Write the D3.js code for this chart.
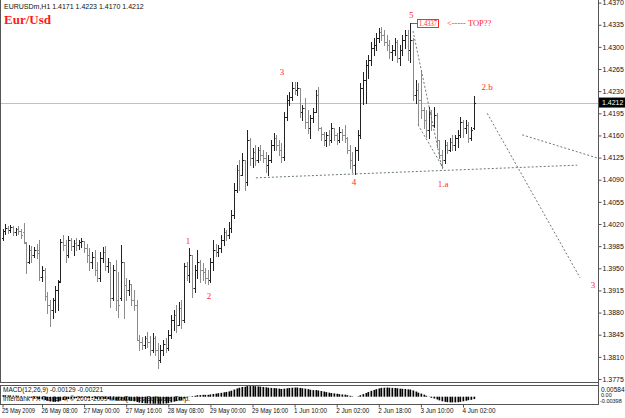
<!DOCTYPE html>
<html>
<head>
<meta charset="utf-8">
<script src="https://cdn.jsdelivr.net/npm/d3@7"></script>
<style>
  body { margin: 0; background: #fff; }
  text { font-family: "Liberation Sans", Arial, sans-serif; }
</style>
</head>
<body>
<script>
// hourly EURUSD bars, 25 May 17:00 .. 4 Jun 06:00
const opens = [1.3998,1.4009,1.4014,1.4011,1.4015,1.4007,1.4012,1.4009,1.4007,1.3990,
  1.3960,1.3979,1.3971,1.3979,1.3979,1.3936,1.3947,1.3906,1.3892,1.3884,
  1.3900,1.3916,1.3930,1.3992,1.3987,1.3971,1.3995,1.3985,1.3990,1.3987,
  1.3992,1.3993,1.3982,1.3971,1.3960,1.3968,1.3947,1.3935,1.3966,1.3976,
  1.3954,1.3960,1.3903,1.3947,1.3900,1.3903,1.3960,1.3924,1.3916,1.3925,
  1.3900,1.3892,1.3837,1.3834,1.3829,1.3840,1.3834,1.3821,1.3840,1.3821,
  1.3805,1.3821,1.3830,1.3824,1.3845,1.3868,1.3876,1.3860,1.3887,1.3868,
  1.3954,1.3940,1.3971,1.3919,1.3947,1.3960,1.3947,1.3944,1.3935,1.3932,
  1.3960,1.3979,1.3976,1.3982,1.3995,1.4007,1.4003,1.4014,1.4034,1.4074,
  1.4105,1.4097,1.4121,1.4086,1.4153,1.4124,1.4134,1.4121,1.4137,1.4129,
  1.4124,1.4113,1.4121,1.4145,1.4156,1.4145,1.4137,1.4126,1.4189,1.4216,
  1.4221,1.4235,1.4232,1.4235,1.4197,1.4203,1.4181,1.4172,1.4188,1.4197,
  1.4224,1.4172,1.4162,1.4153,1.4161,1.4153,1.4172,1.4161,1.4153,1.4165,
  1.4161,1.4156,1.4137,1.4121,1.4113,1.4137,1.4161,1.4235,1.4248,1.4271,
  1.4279,1.4298,1.4303,1.4314,1.4323,1.4319,1.4308,1.4303,1.4292,1.4295,
  1.4308,1.4282,1.4295,1.4311,1.4319,1.4295,1.4311,1.4224,1.4232,1.4216,
  1.4200,1.4184,1.4169,1.4197,1.4177,1.4192,1.4153,1.4129,1.4121,1.4145,
  1.4137,1.4150,1.4145,1.4156,1.4161,1.4181,1.4172,1.4177,1.4156,1.4171];
const highs = [1.4012,1.4020,1.4017,1.4018,1.4017,1.4014,1.4017,1.4012,1.4022,1.3992,
  1.3987,1.3985,1.3984,1.3988,1.3995,1.3954,1.3951,1.3913,1.3900,1.3903,
  1.3922,1.3932,1.3996,1.4003,1.3995,1.4001,1.3998,1.3995,1.3998,1.3995,
  1.3998,1.3993,1.3988,1.3982,1.3976,1.3979,1.3960,1.3976,1.3984,1.3985,
  1.3966,1.3960,1.3955,1.3963,1.3944,1.3987,1.3960,1.3935,1.3932,1.3925,
  1.3916,1.3900,1.3845,1.3842,1.3843,1.3849,1.3843,1.3848,1.3843,1.3832,
  1.3829,1.3837,1.3840,1.3853,1.3876,1.3884,1.3892,1.3897,1.3900,1.3958,
  1.3960,1.3982,1.3971,1.3955,1.3979,1.3963,1.3958,1.3951,1.3947,1.3966,
  1.3995,1.3988,1.3987,1.4003,1.4014,1.4011,1.4023,1.4042,1.4085,1.4113,
  1.4121,1.4132,1.4121,1.4169,1.4156,1.4140,1.4145,1.4142,1.4145,1.4137,
  1.4134,1.4129,1.4153,1.4164,1.4161,1.4153,1.4148,1.4197,1.4224,1.4229,
  1.4244,1.4244,1.4244,1.4235,1.4208,1.4219,1.4200,1.4192,1.4203,1.4232,
  1.4237,1.4173,1.4165,1.4165,1.4169,1.4180,1.4172,1.4164,1.4173,1.4170,
  1.4176,1.4158,1.4145,1.4134,1.4142,1.4169,1.4243,1.4260,1.4279,1.4287,
  1.4308,1.4314,1.4322,1.4330,1.4331,1.4327,1.4319,1.4311,1.4303,1.4314,
  1.4311,1.4303,1.4319,1.4327,1.4327,1.4337,1.4314,1.4248,1.4243,1.4263,
  1.4205,1.4200,1.4205,1.4200,1.4205,1.4195,1.4153,1.4137,1.4153,1.4150,
  1.4156,1.4161,1.4161,1.4169,1.4189,1.4184,1.4184,1.4181,1.4173,1.4223];
const lows = [1.3995,1.4004,1.4006,1.4007,1.4003,1.4003,1.4004,1.3998,1.3990,1.3943,
  1.3958,1.3960,1.3968,1.3966,1.3932,1.3930,1.3900,1.3879,1.3859,1.3872,
  1.3881,1.3884,1.3928,1.3979,1.3960,1.3968,1.3979,1.3971,1.3979,1.3981,
  1.3984,1.3976,1.3960,1.3947,1.3951,1.3940,1.3930,1.3930,1.3960,1.3947,
  1.3944,1.3889,1.3900,1.3884,1.3873,1.3900,1.3872,1.3900,1.3908,1.3892,
  1.3884,1.3837,1.3821,1.3823,1.3824,1.3826,1.3813,1.3818,1.3813,1.3793,
  1.3802,1.3813,1.3818,1.3821,1.3840,1.3853,1.3849,1.3860,1.3856,1.3865,
  1.3932,1.3928,1.3905,1.3913,1.3935,1.3928,1.3932,1.3927,1.3925,1.3928,
  1.3947,1.3970,1.3970,1.3976,1.3987,1.3995,1.3998,1.4007,1.4030,1.4071,
  1.4074,1.4097,1.4074,1.4082,1.4113,1.4110,1.4113,1.4118,1.4121,1.4118,
  1.4102,1.4097,1.4118,1.4137,1.4137,1.4129,1.4118,1.4121,1.4184,1.4208,
  1.4216,1.4225,1.4224,1.4189,1.4184,1.4172,1.4164,1.4156,1.4181,1.4197,
  1.4169,1.4153,1.4145,1.4143,1.4145,1.4150,1.4153,1.4146,1.4150,1.4153,
  1.4150,1.4132,1.4109,1.4102,1.4099,1.4121,1.4156,1.4210,1.4211,1.4251,
  1.4271,1.4287,1.4295,1.4308,1.4311,1.4303,1.4295,1.4282,1.4279,1.4287,
  1.4276,1.4271,1.4287,1.4298,1.4279,1.4276,1.4216,1.4211,1.4177,1.4188,
  1.4172,1.4158,1.4156,1.4169,1.4173,1.4142,1.4124,1.4109,1.4116,1.4132,
  1.4135,1.4137,1.4137,1.4142,1.4158,1.4158,1.4164,1.4150,1.4153,1.4170];
const closes = [1.4009,1.4014,1.4011,1.4015,1.4007,1.4012,1.4009,1.4003,1.3992,1.3960,
  1.3979,1.3971,1.3979,1.3974,1.3936,1.3947,1.3906,1.3892,1.3884,1.3900,
  1.3916,1.3928,1.3992,1.3987,1.3971,1.3995,1.3985,1.3990,1.3987,1.3992,
  1.3993,1.3982,1.3971,1.3960,1.3968,1.3947,1.3935,1.3966,1.3976,1.3954,
  1.3960,1.3903,1.3947,1.3900,1.3892,1.3960,1.3924,1.3916,1.3925,1.3900,
  1.3892,1.3837,1.3834,1.3829,1.3840,1.3834,1.3821,1.3840,1.3821,1.3805,
  1.3821,1.3830,1.3824,1.3845,1.3868,1.3876,1.3860,1.3887,1.3868,1.3954,
  1.3940,1.3971,1.3919,1.3947,1.3960,1.3947,1.3944,1.3935,1.3932,1.3960,
  1.3979,1.3976,1.3982,1.3995,1.4007,1.4003,1.4014,1.4034,1.4074,1.4105,
  1.4097,1.4121,1.4086,1.4153,1.4124,1.4134,1.4121,1.4137,1.4129,1.4124,
  1.4113,1.4121,1.4145,1.4156,1.4145,1.4137,1.4126,1.4189,1.4216,1.4221,
  1.4235,1.4232,1.4235,1.4197,1.4203,1.4181,1.4172,1.4188,1.4197,1.4224,
  1.4172,1.4162,1.4153,1.4161,1.4153,1.4172,1.4161,1.4153,1.4165,1.4161,
  1.4156,1.4137,1.4121,1.4113,1.4137,1.4161,1.4235,1.4248,1.4271,1.4279,
  1.4298,1.4303,1.4314,1.4323,1.4319,1.4308,1.4303,1.4292,1.4295,1.4308,
  1.4282,1.4295,1.4311,1.4319,1.4295,1.4311,1.4224,1.4232,1.4216,1.4200,
  1.4184,1.4169,1.4197,1.4177,1.4192,1.4153,1.4129,1.4121,1.4145,1.4137,
  1.4150,1.4145,1.4156,1.4161,1.4181,1.4172,1.4177,1.4156,1.4169,1.4212];

// MACD(12,26,9) main histogram
const macd = [0.0008,0.0008,0.0007,0.0007,0.0006,0.0006,0.0005,0.0004,0.0003,
  0.0000,-0.0004,-0.0006,-0.0008,-0.0010,-0.0013,-0.0015,-0.0018,-0.0022,-0.0026,-0.0028,-0.0028,-0.0027,
  -0.0022,-0.0018,-0.0016,-0.0013,-0.0011,-0.0009,-0.0008,-0.0006,-0.0005,
  -0.0005,-0.0006,-0.0007,-0.0008,-0.0010,-0.0012,-0.0012,-0.0011,-0.0012,-0.0013,
  -0.0016,-0.0017,-0.0019,-0.0021,-0.0019,-0.0020,-0.0021,-0.0021,-0.0023,-0.0025,
  -0.0029,-0.0032,-0.0035,-0.0036,-0.0037,-0.0038,-0.0038,-0.0038,-0.0039,-0.0039,
  -0.0038,-0.0037,-0.0035,-0.0031,-0.0027,-0.0024,-0.0020,-0.0018,
  -0.0010,-0.0004,0.0001,0.0003,0.0005,0.0008,0.0009,0.0010,0.0010,0.0010,0.0012,0.0015,
  0.0017,0.0019,0.0021,0.0024,0.0026,0.0029,0.0033,0.0039,0.0045,0.0049,0.0053,0.0054,
  0.0058,0.0058,0.0058,0.0057,0.0056,0.0055,0.0053,0.0051,0.0049,0.0048,0.0047,0.0046,
  0.0044,0.0042,0.0044,0.0046,0.0048,0.0049,0.0050,0.0050,0.0048,0.0046,0.0044,
  0.0041,0.0038,0.0036,0.0036,0.0034,0.0031,0.0028,0.0025,0.0022,0.0020,
  0.0018,0.0016,0.0014,0.0012,0.0011,0.0008,0.0005,0.0002,0.0000,0.0002,
  0.0008,0.0014,0.0020,0.0026,0.0032,0.0037,0.0041,0.0045,0.0048,0.0049,0.0050,
  0.0049,0.0048,0.0048,0.0046,0.0044,0.0043,0.0042,0.0040,0.0039,0.0034,0.0028,0.0022,
  0.0017,0.0011,0.0005,-0.0001,-0.0006,-0.0010,-0.0015,-0.0020,-0.0025,-0.0028,-0.0030,-0.0031,
  -0.0031,-0.0031,-0.0030,-0.0028,-0.0025,-0.0022,-0.0019,-0.0017,-0.00129];

const priceTicks = d3.range(18).map(k => 1.3775 + k * 0.0035);
const timeTickIdx = [0, 15, 31, 47, 63, 79, 95, 111, 127, 143, 159, 175];
const timeTickText = ["25 May 2009", "26 May 08:00", "27 May 00:00", "27 May 16:00",
  "28 May 08:00", "29 May 00:00", "29 May 16:00", "1 Jun 10:00", "2 Jun 02:00",
  "2 Jun 18:00", "3 Jun 10:00", "4 Jun 02:00"];

// hand drawn wave count (bar index, price)
const waveText = ["1", "2", "3", "4", "5", "1.a", "2.b", "3"];
const waveIdx = [70.5, 78.5, 106.2, 133.6, 155.3, 167.4, 184.2, 224.4];
const wavePrice = [1.3993, 1.3906, 1.4260, 1.4086, 1.4350, 1.4083, 1.4237, 1.3924];

// dotted trend lines [i1, p1, i2, p2]
const trendLines = [
  [96.3, 1.4093, 218.4, 1.4113],
  [156, 1.4325, 167, 1.4109],
  [157.9, 1.4177, 167.4, 1.4109],
  [184.2, 1.4195, 219.5, 1.3935],
  [197.5, 1.4161, 226.3, 1.4124]
];

const lastPrice = 1.4212;
const topPrice = 1.4337;

const width = 625, height = 418;
const plotRight = 598, plotBottom = 382;
const macdTop = 385, macdBottom = 404;

const svg = d3.select("body").append("svg")
  .attr("width", width)
  .attr("height", height);

const x = d3.scaleLinear().domain([15, 175]).range([42, 463]);
const y = d3.scaleLinear().domain([1.3775, 1.4370]).range([379, 2.6]);
const yM = d3.scaleLinear().domain([-0.00398, 0.00584]).range([macdBottom, macdTop + 1]);
const px = i => Math.round(x(i)) + 0.5;

// frame
const frame = svg.append("g").attr("stroke", "#555").attr("shape-rendering", "crispEdges");
frame.append("line").attr("x1", 0.5).attr("x2", 0.5).attr("y1", 0).attr("y2", plotBottom);
frame.append("line").attr("x1", 0).attr("x2", plotRight).attr("y1", plotBottom + 0.5).attr("y2", plotBottom + 0.5);
frame.append("line").attr("x1", plotRight + 0.5).attr("x2", plotRight + 0.5).attr("y1", 0).attr("y2", macdBottom);
frame.append("rect").attr("x", 0.5).attr("y", macdTop + 0.5)
  .attr("width", plotRight).attr("height", macdBottom - macdTop).attr("fill", "none");

// last price line
svg.append("line")
  .attr("x1", 1).attr("x2", plotRight)
  .attr("y1", Math.round(y(lastPrice)) + 0.5).attr("y2", Math.round(y(lastPrice)) + 0.5)
  .attr("stroke", "#c0c0c0").attr("shape-rendering", "crispEdges");

// OHLC bars
const bars = svg.append("g").attr("shape-rendering", "crispEdges");
opens.forEach((o, i) => {
  const c = closes[i];
  const col = c >= o ? "#222" : "#8c8c8c";
  const g = bars.append("g").attr("stroke", col);
  g.append("line").attr("x1", px(i)).attr("x2", px(i))
    .attr("y1", Math.round(y(highs[i]))).attr("y2", Math.round(y(lows[i])) + 1);
  g.append("line").attr("x1", px(i) - 1.5).attr("x2", px(i))
    .attr("y1", Math.round(y(o)) + 0.5).attr("y2", Math.round(y(o)) + 0.5);
  g.append("line").attr("x1", px(i)).attr("x2", px(i) + 1.5)
    .attr("y1", Math.round(y(c)) + 0.5).attr("y2", Math.round(y(c)) + 0.5);
});

// trend lines
svg.append("g").selectAll("line")
  .data(trendLines)
  .enter()
  .append("line")
  .attr("x1", d => x(d[0])).attr("y1", d => y(d[1]))
  .attr("x2", d => x(d[2])).attr("y2", d => y(d[3]))
  .attr("stroke", "#6a7a7a")
  .attr("stroke-dasharray", "2,2");

// wave labels
svg.append("g").selectAll("text")
  .data(waveText)
  .enter()
  .append("text")
  .attr("x", (d, k) => x(waveIdx[k]))
  .attr("y", (d, k) => y(wavePrice[k]) + 3)
  .attr("text-anchor", "middle")
  .style("font-family", "'Liberation Serif', serif")
  .style("font-size", "9px")
  .attr("fill", "#ff2a2a")
  .text(d => d);

// top marker
const ty = Math.round(y(topPrice)) + 0.5;
svg.append("line").attr("x1", px(155)).attr("x2", 418).attr("y1", ty).attr("y2", ty)
  .attr("stroke", "#ff2a2a").attr("shape-rendering", "crispEdges");
svg.append("rect").attr("x", 417.5).attr("y", ty - 4).attr("width", 21).attr("height", 8)
  .attr("fill", "#fff").attr("stroke", "#ff2a2a").attr("shape-rendering", "crispEdges");
svg.append("text").attr("x", 419).attr("y", ty + 2.5)
  .attr("textLength", 18).attr("lengthAdjust", "spacingAndGlyphs")
  .style("font-family", "'Liberation Serif', serif").style("font-size", "8px")
  .attr("fill", "#ff2a2a").text(topPrice.toFixed(4));
svg.append("text").attr("x", 447).attr("y", ty + 2.5)
  .style("font-family", "'Liberation Serif', serif").style("font-size", "8.5px")
  .attr("fill", "#ff2a2a").text("<----- TOP??");

// titles
svg.append("text").attr("x", 4).attr("y", 9).style("font-size", "7px").attr("fill", "#111")
  .text("EURUSDm,H1  1.4171 1.4223 1.4170 1.4212");
svg.append("text").attr("x", 4).attr("y", 24)
  .style("font-family", "'Liberation Serif', serif").style("font-size", "13px")
  .style("font-weight", "bold").attr("fill", "#ff1a1a").text("Eur/Usd");

// price axis
const yAxis = svg.append("g")
  .attr("transform", `translate(${plotRight + 0.5},0)`)
  .call(d3.axisRight(y).tickValues(priceTicks).tickFormat(d3.format(".4f")).tickSize(3).tickPadding(1));
yAxis.select(".domain").remove();
yAxis.selectAll("text").style("font-size", "7px").attr("fill", "#111");
yAxis.selectAll("line").attr("stroke", "#555");

// last price tag
const ly = y(lastPrice);
svg.append("rect").attr("x", plotRight + 1).attr("y", ly - 5).attr("width", 26).attr("height", 10).attr("fill", "#000");
svg.append("text").attr("x", plotRight + 4).attr("y", ly + 2.5).style("font-size", "7px")
  .attr("fill", "#fff").text(lastPrice.toFixed(4));

// MACD histogram
svg.append("g").selectAll("rect")
  .data(macd)
  .enter()
  .append("rect")
  .attr("x", (d, i) => Math.round(x(i)) - 0.5)
  .attr("y", d => Math.min(yM(d), yM(0)))
  .attr("width", 1.7)
  .attr("height", d => Math.abs(yM(d) - yM(0)))
  .attr("fill", "#000");

svg.append("text").attr("x", 3).attr("y", 392).style("font-size", "6.5px").attr("fill", "#111")
  .text("MACD(12,26,9) -0.00129 -0.00221");
svg.append("text").attr("x", 3).attr("y", 401).style("font-size", "6.5px").attr("fill", "#111")
  .text("Interbank FX Trader 4, \u00a9 2001-2009 MetaQuotes Software Corp.");

const macdLabels = [["0.00584", 391.5, 6.5], ["0.00", 396.5, 5.5], ["-0.00398", 403, 5.5]];
svg.append("g").selectAll("text")
  .data(macdLabels)
  .enter()
  .append("text")
  .attr("x", d => d[0].startsWith("-") ? plotRight + 2 : plotRight + 3)
  .attr("y", d => d[1])
  .style("font-size", d => d[2] + "px")
  .attr("fill", "#111")
  .text(d => d[0]);

// time axis
const xAxis = svg.append("g")
  .attr("transform", `translate(0,${macdBottom + 0.5})`)
  .call(d3.axisBottom(x).tickValues(timeTickIdx).tickFormat((d, k) => timeTickText[k]).tickSize(3).tickPadding(1));
xAxis.select(".domain").remove();
xAxis.selectAll("line").attr("stroke", "#555");
xAxis.selectAll("text")
  .attr("text-anchor", "start")
  .attr("dx", -1)
  .attr("textLength", (d, k) => timeTickText[k].length * 3)
  .attr("lengthAdjust", "spacingAndGlyphs")
  .style("font-size", "7px")
  .attr("fill", "#111");
</script>
</body>
</html>
